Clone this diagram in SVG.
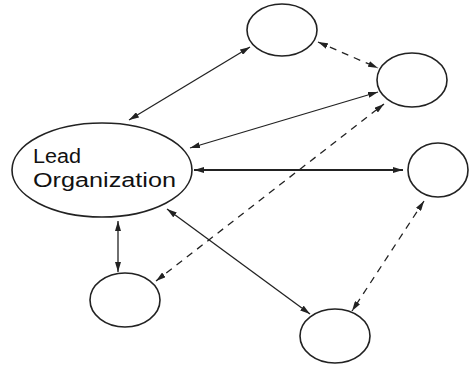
<svg xmlns="http://www.w3.org/2000/svg" width="469" height="365" viewBox="0 0 469 365">
<style>
.node{fill:none;stroke:#222;stroke-width:1.6}
.c{fill:none;stroke:#222;stroke-width:1.3;marker-start:url(#ah);marker-end:url(#ah)}
.d{stroke-dasharray:7,6}
.t{font-family:"Liberation Sans",Arial,sans-serif;font-size:20px;fill:#111}
</style>
<defs>
<marker id="ah" viewBox="0 0 10 6" refX="10" refY="3" markerWidth="10" markerHeight="6" markerUnits="userSpaceOnUse" orient="auto-start-reverse">
<path d="M0,0 L10,3 L0,6 Z" fill="#222"/>
</marker>
</defs>
<g id="connectors">
<line class="c" x1="129" y1="120" x2="250" y2="47"/>
<line class="c d" x1="318" y1="42" x2="378" y2="68"/>
<line class="c" x1="190" y1="148" x2="378" y2="92"/>
<line class="c" x1="194" y1="170" x2="403" y2="170" style="stroke-width:2"/>
<line class="c d" x1="156" y1="281" x2="384" y2="104"/>
<line class="c" x1="118" y1="221" x2="118" y2="272"/>
<line class="c" x1="167" y1="209" x2="310" y2="314"/>
<line class="c d" x1="424" y1="201" x2="352" y2="311"/>
</g>
<g id="lead">
<ellipse class="node" cx="102" cy="170" rx="90" ry="47"/>
<text class="t" x="33" y="163" textLength="48" lengthAdjust="spacingAndGlyphs">Lead</text>
<text class="t" x="33" y="187" textLength="143" lengthAdjust="spacingAndGlyphs">Organization</text>
</g>
<g id="n1"><ellipse class="node" cx="282" cy="30" rx="35" ry="26"/></g>
<g id="n2"><ellipse class="node" cx="412" cy="80" rx="35" ry="27"/></g>
<g id="n3"><ellipse class="node" cx="438" cy="170" rx="30" ry="27"/></g>
<g id="n4"><ellipse class="node" cx="125" cy="300" rx="35" ry="27"/></g>
<g id="n5"><ellipse class="node" cx="335" cy="336" rx="35" ry="27"/></g>
</svg>
